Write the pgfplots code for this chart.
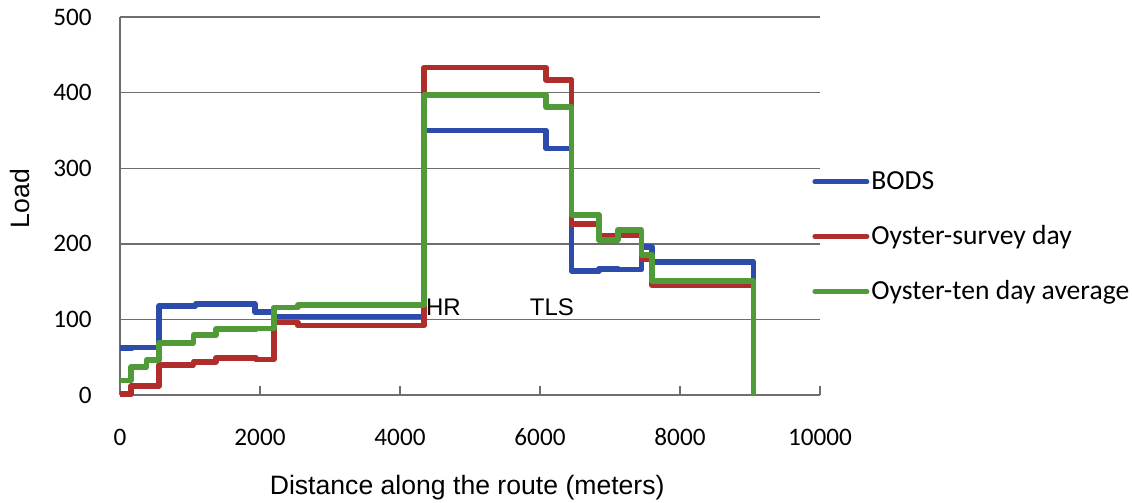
\documentclass[border=0pt]{standalone}
\usepackage{pgfplots}
\pgfplotsset{compat=1.18}
\usepackage{fontspec}
\setmainfont{Carlito}
\newfontfamily\arial{Liberation Sans}
\definecolor{cblue}{RGB}{45,75,170}
\definecolor{cred}{RGB}{175,45,42}
\definecolor{cgreen}{RGB}{80,155,55}
\definecolor{cgrid}{RGB}{110,110,110}
\begin{document}
\begin{tikzpicture}
\path[use as bounding box] (-60pt,-54pt) rectangle (506pt,197.5pt);
\begin{axis}[
  at={(0,0)}, anchor=south west,
  scale only axis, width=350pt, height=189pt,
  xmin=0, xmax=10000, ymin=0, ymax=500,
  clip=false,
  axis x line*=bottom, axis y line*=left,
  axis line style={cgrid, line width=0.7pt, -},
  xtick={0,2000,4000,6000,8000,10000},
  ytick={0,100,200,300,400,500},
  scaled x ticks=false,
  /pgf/number format/1000 sep={},
  /pgf/number format/assume math mode=true,
  ymajorgrids,
  grid style={cgrid, line width=0.7pt},
  xtick align=inside,
  major tick length=4.5pt,
  xtick style={cgrid, line width=0.7pt},
  ytick style={draw=none},
  tick label style={font=\fontsize{12.6}{14}\selectfont},
  xticklabel style={anchor=center, yshift=-21pt},
  yticklabel style={anchor=east, inner sep=0pt, xshift=-14pt},
  xlabel={Distance along the route (meters)},
  ylabel={Load},
  xlabel style={font=\arial\fontsize{13.3}{15}\selectfont, at={(axis description cs:0.496,0)}, anchor=center, yshift=-46.5pt},
  ylabel style={font=\arial\fontsize{13.3}{15}\selectfont, at={(axis description cs:-0.143,0.52)}, anchor=center},
  legend style={at={(rel axis cs:0.9886,0.418)}, anchor=west, draw=none, fill=none, inner sep=0pt,
    row sep=14.5pt, font=\fontsize{13.8}{15}\selectfont, nodes={inner sep=1pt}},
  legend cell align=left,
  legend image code/.code={\draw[#1, line width=2.5pt, line cap=round] (0pt,0pt) -- (26pt,0pt);},
  every axis plot/.append style={line width=2.8pt, line join=round, const plot},
]
\addplot[cblue] coordinates {
 (0,62) (170,63) (560,118) (1080,120) (1930,110) (2200,104) (4345,350) (6086,326)
 (6450,164) (6840,167) (7110,166) (7450,196) (7600,176) (9050,0)};
\addlegendentry{BODS}
\addplot[cred] coordinates {
 (0,1) (160,12) (560,40) (1050,44) (1370,49) (1940,47) (2200,96) (2540,92) (4345,433) (6086,417)
 (6450,226) (6840,210) (7110,212) (7450,180) (7600,145) (9050,0)};
\addlegendentry{Oyster-survey day}
\addplot[cgreen] coordinates {
 (0,19) (160,37) (380,46) (560,69) (1050,79) (1370,87) (1940,88) (2200,116) (2540,119) (4345,397) (6086,381)
 (6450,238) (6840,205) (7110,218) (7450,185) (7600,151) (9050,0)};
\addlegendentry{Oyster-ten day average}
\node[font=\arial\fontsize{12}{14}\selectfont] at (axis cs:4620,116) {HR};
\node[font=\arial\fontsize{12}{14}\selectfont] at (axis cs:6170,116) {TLS};
\end{axis}
\end{tikzpicture}
\end{document}
